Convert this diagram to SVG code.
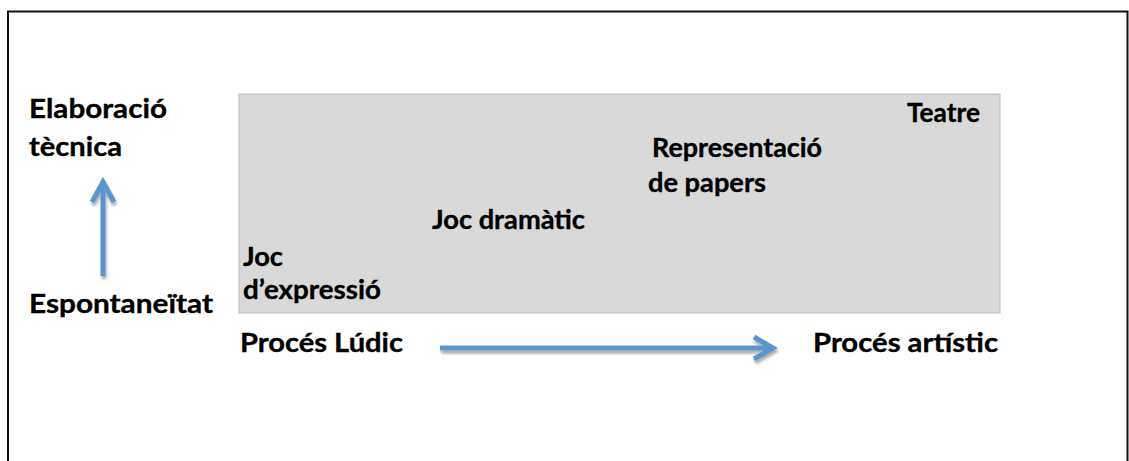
<svg xmlns="http://www.w3.org/2000/svg" width="1129" height="461" viewBox="0 0 1129 461">
<style>
.t{font-family:Lato,"Open Sans","Liberation Sans",sans-serif;font-weight:bold;font-size:26px;fill:#000;stroke:#000;stroke-width:0.35}
.arr{stroke:#5b95cc;stroke-width:5;fill:none;stroke-linecap:butt;stroke-linejoin:miter}
</style>
<defs>
<filter id="sh" x="-20%" y="-20%" width="140%" height="140%">
<feGaussianBlur in="SourceAlpha" stdDeviation="1.5"/>
<feOffset dx="1" dy="3" result="b"/>
<feComponentTransfer><feFuncA type="linear" slope="0.35"/></feComponentTransfer>
<feMerge><feMergeNode/><feMergeNode in="SourceGraphic"/></feMerge>
</filter>
</defs>
<rect width="1129" height="461" fill="#fff"/>
<g id="frame" fill="none" stroke="#111" stroke-width="2">
<path d="M8,461 V11.5 H1127.5 V461"/>
</g>
<g id="field"><rect x="239" y="94" width="761" height="219" fill="#d9d9d9" stroke="#bdbdbd" stroke-width="1"/></g>
<g id="axis-labels">
<text class="t" x="29" y="118" textLength="138" lengthAdjust="spacingAndGlyphs">Elaboració</text>
<text class="t" x="29" y="156" textLength="93" lengthAdjust="spacingAndGlyphs">tècnica</text>
<text class="t" x="29" y="313" textLength="184" lengthAdjust="spacingAndGlyphs">Espontaneïtat</text>
<text class="t" x="240" y="352" textLength="163" lengthAdjust="spacingAndGlyphs">Procés Lúdic</text>
<text class="t" x="813" y="352" textLength="185" lengthAdjust="spacingAndGlyphs">Procés artístic</text>
</g>
<g id="n-expressio">
<text class="t" x="243" y="266" textLength="40" lengthAdjust="spacingAndGlyphs">Joc</text>
<text class="t" x="243" y="299" textLength="138" lengthAdjust="spacingAndGlyphs">d’expressió</text>
</g>
<g id="n-dramatic"><text class="t" x="432" y="229" textLength="153" lengthAdjust="spacingAndGlyphs">Joc dramàtic</text></g>
<g id="n-representacio">
<text class="t" x="652" y="157" textLength="170" lengthAdjust="spacingAndGlyphs">Representació</text>
<text class="t" x="648" y="192" textLength="118" lengthAdjust="spacingAndGlyphs">de papers</text>
</g>
<g id="n-teatre"><text class="t" x="907" y="122" textLength="73" lengthAdjust="spacingAndGlyphs">Teatre</text></g>
<g id="connectors" filter="url(#sh)">
<path class="arr" d="M103,276 V182 M92,202 L103,182 L114,202"/>
<path class="arr" d="M440,348 H772 M754,337 L773,348 L754,359"/>
</g>
</svg>
